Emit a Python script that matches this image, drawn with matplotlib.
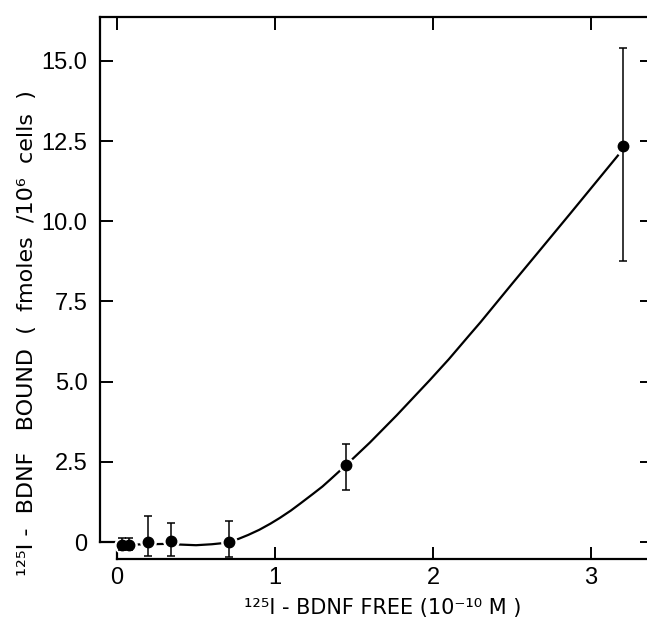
import matplotlib
matplotlib.use("Agg")
from matplotlib import pyplot as plt

plt.rcParams["font.family"] = ["Liberation Sans", "DejaVu Sans"]

# measured points (mean with error bars)
free_conc = [0.03, 0.075, 0.196, 0.343, 0.71, 1.45, 3.20]
bound = [-0.1, -0.1, 0.0, 0.03, 0.0, 2.40, 12.35]
err_low = [0.15, 0.15, 0.44, 0.47, 0.48, 0.78, 3.6]
err_high = [0.23, 0.23, 0.81, 0.57, 0.65, 0.66, 3.05]

# fitted curve
curve_x = [0.0, 0.1, 0.2, 0.3, 0.4, 0.5, 0.6, 0.7, 0.77, 0.83, 0.9, 0.97,
           1.03, 1.1, 1.16, 1.24, 1.3, 1.35, 1.45, 1.6, 1.77, 1.98, 2.1,
           2.23, 2.3, 2.5, 2.66, 2.87, 3.0, 3.17]
curve_y = [-0.08, -0.08, -0.07, -0.06, -0.08, -0.1, -0.07, -0.02, 0.1,
           0.22, 0.38, 0.57, 0.75, 0.98, 1.2, 1.5, 1.73, 1.95, 2.4, 3.1,
           3.95, 5.05, 5.7, 6.45, 6.85, 8.05, 9.0, 10.25, 11.03, 12.05]

y_ticks = [0, 2.5, 5.0, 7.5, 10.0, 12.5, 15.0]
y_tick_labels = ["0", "2.5", "5.0", "7.5", "10.0", "12.5", "15.0"]
x_ticks = [0, 1, 2, 3]
x_tick_labels = ["0", "1", "2", "3"]

fig = plt.figure(figsize=(6.47, 6.22), dpi=100)
ax = fig.add_axes([100 / 647, 63 / 622, 552 / 647, 542 / 622])

ax.plot(curve_x, curve_y, color="black", linewidth=1.6, zorder=2)
# white halo round markers, leaves a gap in the curve
ax.plot(free_conc, bound, "o", color="white", markersize=11, zorder=3)
ax.errorbar(free_conc, bound, yerr=[err_low, err_high], fmt="o",
            color="black", markersize=7.5, elinewidth=1.1, capsize=3,
            capthick=1.1, zorder=4)

xmin, xmax = -0.108, 3.386
ymin, ymax = -0.53, 16.37
ax.set_xlim(xmin, xmax)
ax.set_ylim(ymin, ymax)

ax.spines["left"].set_bounds(0, ymax)
ax.spines["bottom"].set_bounds(0, xmax)
for spine in ax.spines.values():
  spine.set_linewidth(1.6)
# notch joining the two offset spines
ax.plot([xmin, 0, 0], [0, 0, ymin], color="black", linewidth=1.6,
        clip_on=False, zorder=1)

ax.set_xticks(x_ticks)
ax.set_xticklabels(x_tick_labels)
ax.set_yticks(y_ticks)
ax.set_yticklabels(y_tick_labels)
ax.tick_params(direction="in", length=9, width=1.4, labelsize=17,
               top=True, right=True, pad=9)
ax.tick_params(axis="x", pad=6)

label_font = ["DejaVu Sans"]
fig.text(0.592, 1 - 608 / 622, "¹²⁵I - BDNF FREE (10⁻¹⁰ M )",
         ha="center", va="center", fontsize=15, family=label_font)
fig.text(27 / 647, 1 - 333 / 622,
         "¹²⁵I -  BDNF   BOUND  (  fmoles  /10⁶  cells  )",
         ha="center", va="center", rotation=90, fontsize=16,
         family=label_font)

fig.savefig("out.png", dpi=100)
